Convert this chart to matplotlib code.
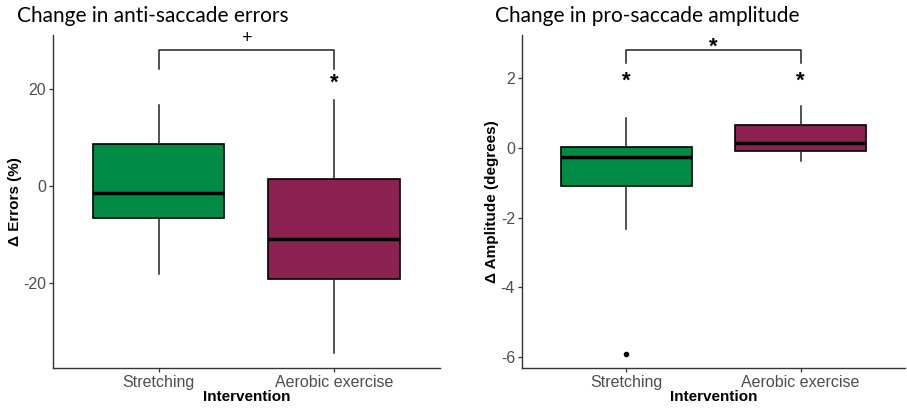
import matplotlib.pyplot as plt

plt.rcParams['font.family'] = ['Liberation Sans', 'DejaVu Sans']
plt.rcParams['axes.unicode_minus'] = False

groups = ['Stretching', 'Aerobic exercise']
colors = ['#008B45', '#8B2252']

# left panel: anti-saccade errors (%)
err_whislo = [-18.1, -34.4]
err_q1 = [-6.6, -19.2]
err_med = [-1.4, -10.9]
err_q3 = [8.7, 1.4]
err_whishi = [16.7, 17.7]
err_fliers = [[], []]

# right panel: pro-saccade amplitude (degrees)
amp_whislo = [-2.32, -0.37]
amp_q1 = [-1.09, -0.09]
amp_med = [-0.26, 0.14]
amp_q3 = [0.03, 0.66]
amp_whishi = [0.86, 1.2]
amp_fliers = [[-5.91], []]


def make_stats(lo, q1, med, q3, hi, fl):
    stats = []
    for i in range(len(lo)):
        stats.append(dict(whislo=lo[i], q1=q1[i], med=med[i], q3=q3[i],
                          whishi=hi[i], fliers=fl[i]))
    return stats


def draw_panel(ax, stats, ylim, yticks, ylabel):
    b = ax.bxp(stats, positions=[1, 2], widths=0.75, patch_artist=True,
               showcaps=False,
               boxprops=dict(edgecolor='black', linewidth=1.2),
               medianprops=dict(color='black', linewidth=2.5),
               whiskerprops=dict(color='#222222', linewidth=1.1),
               flierprops=dict(marker='o', markerfacecolor='black',
                               markeredgecolor='black', markersize=3))
    for patch, c in zip(b['boxes'], colors):
        patch.set_facecolor(c)
    ax.set_xlim(0.4, 2.6)
    ax.set_ylim(*ylim)
    ax.set_yticks(yticks)
    ax.set_xticks([1, 2])
    ax.set_xticklabels(groups)
    for s in ['top', 'right']:
        ax.spines[s].set_visible(False)
    for s in ['left', 'bottom']:
        ax.spines[s].set_color('#333333')
        ax.spines[s].set_linewidth(1.0)
    ax.tick_params(colors='#333333', labelcolor='#4D4D4D', labelsize=11.5,
                   length=3, width=0.9, pad=2)
    ax.set_xlabel('Intervention', fontsize=11, fontweight='bold', labelpad=0)
    ax.set_ylabel(ylabel, fontsize=11, fontweight='bold', labelpad=1)


fig = plt.figure(figsize=(9.07, 4.08), dpi=100)
ax1 = fig.add_axes([0.0584, 0.098, 0.4267, 0.816])
ax2 = fig.add_axes([0.5755, 0.098, 0.4223, 0.816])

draw_panel(ax1, make_stats(err_whislo, err_q1, err_med, err_q3, err_whishi, err_fliers),
           (-37.5, 31.1), [-20, 0, 20], 'Δ Errors (%)')
draw_panel(ax2, make_stats(amp_whislo, amp_q1, amp_med, amp_q3, amp_whishi, amp_fliers),
           (-6.31, 3.24), [-6, -4, -2, 0, 2], 'Δ Amplitude (degrees)')

# significance brackets
ax1.plot([1, 1, 2, 2], [24.1, 28.0, 28.0, 24.1], color='#222222', lw=1.1)
ax1.text(1.5, 28.6, '+', ha='center', va='bottom', fontsize=13)
ax1.text(2, 19.0, '*', ha='center', va='bottom', fontsize=16, fontweight='bold')

ax2.plot([1, 1, 2, 2], [2.44, 2.81, 2.81, 2.44], color='#222222', lw=1.1)
ax2.text(1.5, 2.6, '*', ha='center', va='bottom', fontsize=16, fontweight='bold')
ax2.text(1, 1.62, '*', ha='center', va='bottom', fontsize=16, fontweight='bold')
ax2.text(2, 1.62, '*', ha='center', va='bottom', fontsize=16, fontweight='bold')

fig.text(17 / 907, 1 - 22 / 408, 'Change in anti-saccade errors', fontsize=15,
         family='Lato', ha='left', va='baseline')
fig.text(495 / 907, 1 - 22 / 408, 'Change in pro-saccade amplitude', fontsize=15,
         family='Lato', ha='left', va='baseline')

fig.savefig('out.png', dpi=100)
